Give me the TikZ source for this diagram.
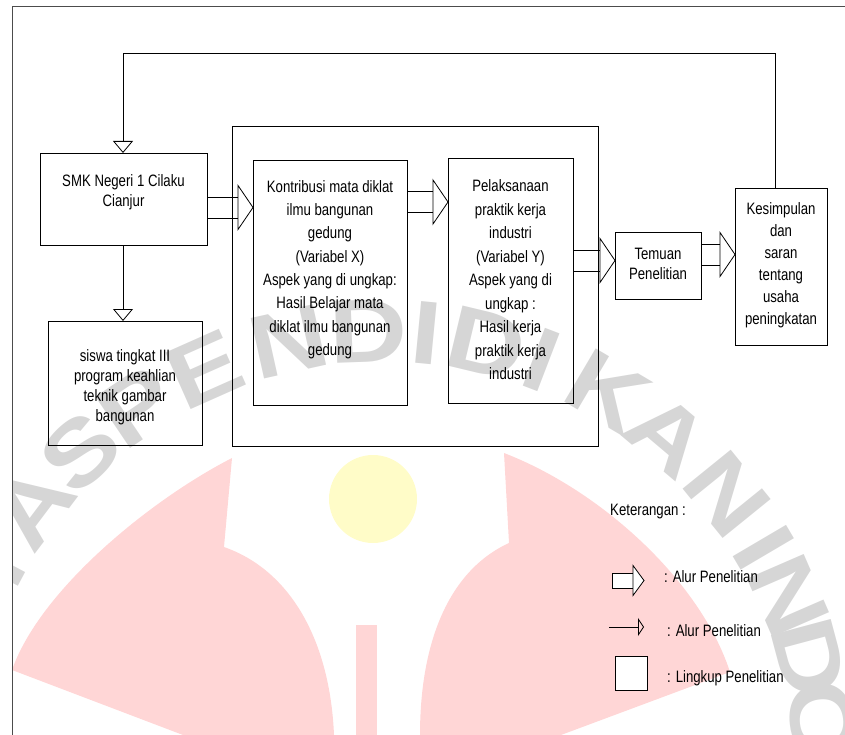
\documentclass[tikz,border=0pt]{standalone}
\usepackage{fontspec}
\setmainfont{Liberation Sans}[FakeStretch=0.8]
\newfontfamily\wmfont{Liberation Sans Bold}[FakeStretch=1.2]
\usetikzlibrary{arrows.meta,calc}
\definecolor{wmpink}{RGB}{255,214,214}
\definecolor{wmyellow}{RGB}{255,252,200}
\definecolor{wmgray}{RGB}{214,214,214}
\newcommand\blkarrow[3]{%
  \coordinate (tip) at (#2.west |- 0,#3);
  \draw[ln] ($(#1.east |- tip)+(0,-10.5)$) -- ($(tip)+(-15,-10.5)$);
  \draw[ln] ($(#1.east |- tip)+(0,10.5)$) -- ($(tip)+(-15,10.5)$);
  \draw[ln, fill=white] ($(tip)+(-15,-22)$) -- (tip) -- ($(tip)+(-15,22)$) -- cycle;
}
\begin{document}
\begin{tikzpicture}[x=1pt,y=-1pt,
  box/.style={draw, line width=0.8pt, inner sep=0pt, outer sep=0pt, anchor=north west},
  txt/.style={align=center, inner sep=0pt, font={\fontsize{16.5}{#1}\selectfont}},
  txt/.default=21,
  lg/.style={anchor=base west, inner sep=0pt, font={\fontsize{16.5}{20}\selectfont}},
  ln/.style={line width=0.8pt},
  tri/.style={-{Triangle[open,width=20pt,length=12pt]}, line width=0.8pt},
  wm/.style={inner sep=0pt, text=wmgray, font={\wmfont\fontsize{90}{90}\selectfont}}
]
\useasboundingbox (0,0) rectangle (845,735);
% watermark
\begin{scope}
\clip (12,7) rectangle (845,735);
\fill[wmpink] (232,458) .. controls (150,500) and (40,590) .. (12,670) -- (183,735) -- (334,735) .. controls (330,640) and (290,570) .. (224,547) -- cycle;
\fill[wmpink] (504,453) .. controls (600,490) and (700,580) .. (730,672) -- (561,735) -- (420,735) .. controls (420,640) and (450,570) .. (509,543) -- cycle;
\fill[wmpink] (356,625) rectangle (377,735);
\fill[wmyellow] (373,499) circle[radius=44pt];
\foreach \ch/\ang [count=\i] in {T/152, A/143, S/133.5, P/124, E/114, N/102.5, D/92, I/84.5, D/76.5, I/69, K/59.5, A/49.8, N/39, I/30.5, N/23.5, D/15, O/6.5}
  \node[wm, rotate=\ang-90] (wm\i) at ({384+441*cos(\ang)}, {772-441*sin(\ang)}) {\ch};
\end{scope}
% frame
\draw[line width=1pt, black!70] (12,735) -- (12,7) -- (845,7);
% boxes
\node[box, minimum width=167, minimum height=92] (smk) at (40,153) {};
\node[box, minimum width=154, minimum height=124] (sis) at (48,321) {};
\node[box, minimum width=366, minimum height=320] (scope) at (232,126) {};
\node[box, minimum width=154, minimum height=245] (kon) at (253,160) {};
\node[box, minimum width=125, minimum height=245] (pel) at (448,158) {};
\node[box, minimum width=86, minimum height=67] (tem) at (615,232) {};
\node[box, minimum width=92, minimum height=157] (kes) at (735,188) {};
% texts
\node[txt=20] (tsmk) at (123.5,192.5) {SMK Negeri 1 Cilaku\\Cianjur};
\node[txt=20] (tsis) at (125,387.5) {siswa tingkat III\\program keahlian\\teknik gambar\\bangunan};
\node[txt=23.3] (tkon) at (330,269.5) {Kontribusi mata diklat\\ilmu bangunan\\gedung\\(Variabel X)\\Aspek yang di ungkap:\\Hasil Belajar mata\\diklat ilmu bangunan\\gedung};
\node[txt=23.5] (tpel) at (510.5,280) {Pelaksanaan\\praktik kerja\\industri\\(Variabel Y)\\Aspek yang di\\ungkap :\\Hasil kerja\\praktik kerja\\industri};
\node[txt=20] (ttem) at (658,263.5) {Temuan\\Penelitian};
\node[txt=22] (tkes) at (781,265) {Kesimpulan\\dan\\saran\\tentang\\usaha\\peningkatan};
% block arrows
\blkarrow{smk}{kon}{207.5}
\blkarrow{kon}{pel}{202}
\blkarrow{pel}{tem}{260.5}
\blkarrow{tem}{kes}{254.5}
% thin arrows
\coordinate (fbR) at (775,53);
\coordinate (fbL) at (123,53);
\draw[tri] (kes.north -| fbR) -- (fbR) -- (fbL) -- (fbL |- smk.north);
\draw[tri] (smk.south -| fbL) -- (fbL |- sis.north);
% legend
\node[lg] (ket) at (610,515) {Keterangan :};
\node[box, fill=white, minimum width=21, minimum height=15] (lgshaft) at (612,573) {};
\draw[ln, fill=white] ($(lgshaft.east)+(0,-15)$) -- ($(lgshaft.east)+(11,0)$) -- ($(lgshaft.east)+(0,15)$) -- cycle;
\node[lg] (lg1) at (664,582) {: Alur Penelitian};
\coordinate (la1) at (609,627);
\coordinate (la2) at (644,627);
\draw[ln, -{Triangle[open,width=18pt,length=6pt]}] (la1) -- (la2);
\node[lg] (lg2) at (667,636) {: Alur Penelitian};
\node[box, fill=white, minimum width=32, minimum height=34] (lgsq) at (615,656) {};
\node[lg] (lg3) at (667,682) {: Lingkup Penelitian};
\end{tikzpicture}
\end{document}
